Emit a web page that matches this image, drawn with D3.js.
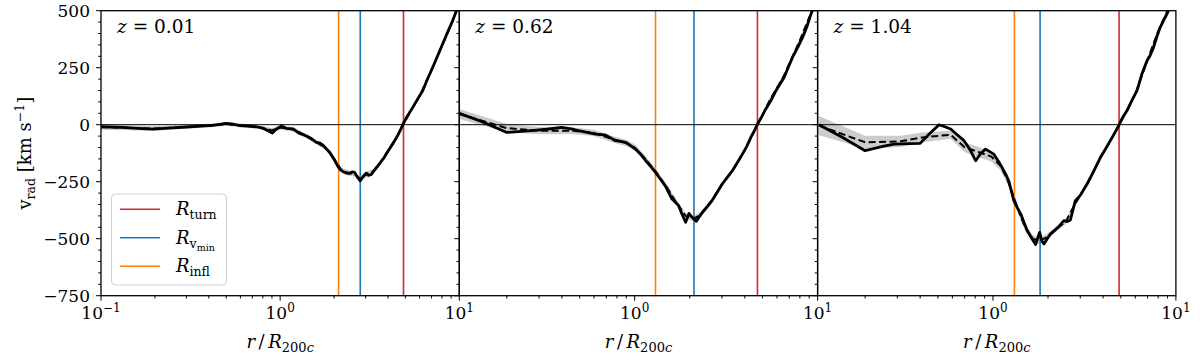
<!DOCTYPE html>
<html>
<head>
<meta charset="utf-8">
<script src="https://cdn.jsdelivr.net/npm/d3@7"></script>
<style>
  body { margin: 0; background: #fff; }
  svg { font-family: "DejaVu Serif", serif; }
</style>
</head>
<body>
<div id="chart"></div>
<script>
// ---- data ----
const zLabels = ["0.01", "0.62", "1.04"];
const xMins = [0.1, 0.11, 0.11];

const rTurn = [4.88, 4.69, 4.89];
const rVmin = [2.80, 2.11, 1.81];
const rInfl = [2.12, 1.30, 1.31];

const yTicks = [500, 250, 0, -250, -500, -750];

// z = 0.01
const r1 = [0.10,0.13,0.16,0.195,0.25,0.30,0.356,0.42,0.50,0.55,0.594,0.66,0.736,0.80,0.84,0.905,0.95,1.02,1.08,1.18,1.28,1.36,1.43,1.50,1.59,1.66,1.73,1.80,1.89,2.01,2.10,2.17,2.24,2.34,2.44,2.52,2.60,2.70,2.80,2.90,3.02,3.10,3.22,3.40,3.58,3.80,4.07,4.25,4.53,4.70,4.83,5.10,5.50,5.85,6.25,6.60,7.10,7.55,8.07,8.60,9.18,9.80,10.0];
const v1 = [-9,-12,-16,-19,-14,-10,-6,-3,6,2,-4,-6,-9,-15,-23,-37,-20,-6,-16,-18,-38,-45,-53,-62,-77,-80,-89,-104,-121,-155,-183,-198,-205,-212,-213,-207,-209,-230,-246,-228,-213,-222,-219,-195,-172,-145,-107,-85,-48,-22,0,35,76,112,149,195,251,300,354,405,456,515,530];
const r1m = [0.1,0.2,0.3,0.4,0.5,0.6,0.75,0.9,1.0,1.2,1.4,1.6,1.8,2.0,2.2,2.4,2.6,2.8,3.0,3.3,3.6,4.0,4.5,5.0,5.5,6.0,7.0,8.0,9.0,10.0];
const mean1 = [-10,-17,-10,-4,3,-3,-10,-25,-12,-22,-50,-78,-102,-150,-200,-212,-215,-240,-218,-205,-170,-115,-50,18,76,125,240,345,440,530];
const spread1 = [12,10,8,8,8,8,8,10,10,10,10,10,10,12,12,12,12,12,12,10,10,10,10,10,10,10,10,10,10,10];

// z = 0.62
const r2 = [0.11,0.15,0.20,0.273,0.33,0.40,0.45,0.493,0.55,0.61,0.69,0.74,0.78,0.84,0.89,0.95,1.01,1.08,1.15,1.22,1.30,1.38,1.47,1.54,1.60,1.67,1.74,1.82,1.90,1.98,2.06,2.17,2.25,2.34,2.50,2.65,2.80,3.01,3.20,3.42,3.65,3.88,4.10,4.31,4.50,4.69,4.95,5.21,5.55,5.92,6.25,6.57,6.90,7.29,7.80,8.28,8.70,9.20,9.60,10.0];
const v2 = [50,10,-34,-26,-20,-12,-18,-26,-34,-41,-45,-58,-70,-73,-77,-92,-107,-130,-158,-182,-209,-238,-268,-300,-326,-340,-355,-395,-428,-389,-406,-424,-405,-385,-358,-333,-302,-260,-232,-202,-165,-129,-95,-56,-28,3,35,69,105,149,180,208,250,295,340,383,425,485,525,560];
const r2m = [0.11,0.2,0.3,0.45,0.6,0.75,0.9,1.0,1.15,1.3,1.5,1.7,1.9,2.1,2.3,2.6,3.0,3.5,4.0,4.7,5.5,6.5,8.0,10];
const mean2 = [47,-15,-26,-26,-36,-62,-80,-100,-152,-205,-275,-345,-400,-412,-395,-340,-262,-190,-112,0,110,210,370,560];
const spread2 = [22,18,16,15,14,14,14,14,14,14,14,14,12,12,12,12,10,10,10,10,10,10,10,10];

// z = 1.04
const r3 = [0.112,0.15,0.20,0.25,0.288,0.35,0.40,0.45,0.507,0.55,0.587,0.64,0.695,0.75,0.804,0.85,0.91,0.96,1.01,1.07,1.12,1.17,1.22,1.26,1.30,1.36,1.42,1.48,1.54,1.62,1.71,1.76,1.80,1.85,1.90,1.98,2.06,2.20,2.30,2.44,2.55,2.65,2.82,3.0,3.27,3.50,3.87,4.10,4.38,4.60,4.87,5.10,5.40,5.70,6.13,6.50,6.95,7.20,7.55,7.90,8.21,8.60,8.93,9.30,10.0];
const v3 = [0,-55,-114,-95,-85,-83,-82,-40,0,-10,-19,-45,-70,-110,-158,-130,-107,-118,-129,-160,-187,-215,-246,-290,-333,-365,-392,-430,-465,-495,-526,-495,-472,-510,-523,-500,-480,-460,-445,-421,-425,-418,-333,-310,-260,-215,-143,-110,-70,-40,-4,30,61,100,149,220,281,300,339,390,427,460,485,520,580];
const r3m = [0.112,0.2,0.313,0.41,0.587,0.70,0.84,0.98,1.1,1.2,1.3,1.4,1.5,1.65,1.8,1.95,2.2,2.5,2.8,3.3,3.9,4.4,4.9,5.5,6.1,7.0,8.0,9.0,10];
const mean3 = [-4,-77,-73,-56,-44,-99,-121,-140,-180,-240,-320,-390,-450,-500,-510,-495,-460,-425,-350,-255,-140,-68,0,75,150,285,410,500,580];
const spread3 = [42,28,25,22,18,22,22,22,20,20,18,18,16,16,14,14,12,12,12,12,12,12,12,12,12,12,12,12,12];

const solidR = [r1, r2, r3], solidV = [v1, v2, v3];
const meanR = [r1m, r2m, r3m], meanV = [mean1, mean2, mean3], spreadV = [spread1, spread2, spread3];

// ---- layout ----
const W = 1200, H = 360;
const mLeft = 101, mTop = 10.7, plotH = 285, panelW = 358.3;
const fs = 17;

const svg = d3.select("#chart").append("svg")
  .attr("width", W).attr("height", H);

const yScale = d3.scaleLinear().domain([-750, 500]).range([mTop + plotH, mTop]);

const colors = { turn: "#d62728", vmin: "#1f77b4", infl: "#ff7f0e" };

for (let i = 0; i < 3; i++) {
  const x0 = mLeft + i * panelW;
  const xScale = d3.scaleLog().domain([xMins[i], 10]).range([x0, x0 + panelW]);
  const g = svg.append("g");

  g.append("clipPath").attr("id", "clip" + i)
    .append("rect").attr("x", x0).attr("y", mTop).attr("width", panelW).attr("height", plotH);
  const inner = g.append("g").attr("clip-path", `url(#clip${i})`);

  const band = meanR[i].map((r, k) => ({ r: r, lo: meanV[i][k] - spreadV[i][k], hi: meanV[i][k] + spreadV[i][k] }));
  inner.append("path")
    .datum(band)
    .attr("fill", "#cccccc")
    .attr("d", d3.area().x(d => xScale(d.r)).y0(d => yScale(d.lo)).y1(d => yScale(d.hi)));

  // characteristic radii
  [[rTurn[i], colors.turn], [rVmin[i], colors.vmin], [rInfl[i], colors.infl]].forEach(([r, c]) => {
    inner.append("line")
      .attr("x1", xScale(r)).attr("x2", xScale(r))
      .attr("y1", mTop).attr("y2", mTop + plotH)
      .attr("stroke", c).attr("stroke-width", 1.6);
  });

  inner.append("line")
    .attr("x1", x0).attr("x2", x0 + panelW)
    .attr("y1", yScale(0)).attr("y2", yScale(0))
    .attr("stroke", "#000").attr("stroke-width", 1);

  const line = d3.line().x(d => xScale(d[0])).y(d => yScale(d[1]));
  inner.append("path")
    .datum(meanR[i].map((r, k) => [r, meanV[i][k]]))
    .attr("fill", "none").attr("stroke", "#000").attr("stroke-width", 2)
    .attr("stroke-dasharray", "7,3.5")
    .attr("d", line);
  inner.append("path")
    .datum(solidR[i].map((r, k) => [r, solidV[i][k]]))
    .attr("fill", "none").attr("stroke", "#000").attr("stroke-width", 2.8)
    .attr("stroke-linejoin", "round")
    .attr("d", line);

  // frame
  g.append("rect")
    .attr("x", x0).attr("y", mTop).attr("width", panelW).attr("height", plotH)
    .attr("fill", "none").attr("stroke", "#000").attr("stroke-width", 1.3);

  // y ticks (outward on left spine)
  const yMinor = d3.range(-750, 501, 50);
  g.selectAll(null).data(yMinor).join("line")
    .attr("x1", x0).attr("x2", d => x0 - (d % 250 === 0 ? 5 : 2.8))
    .attr("y1", d => yScale(d)).attr("y2", d => yScale(d))
    .attr("stroke", "#000").attr("stroke-width", 1);
  if (i === 0) {
    g.selectAll(null).data(yTicks).join("text")
      .attr("x", x0 - 11).attr("y", d => yScale(d) + 6)
      .attr("text-anchor", "end").style("font-size", fs + "px")
      .text(d => d < 0 ? "\u2212" + Math.abs(d) : d);
  }

  // x ticks
  const allTicks = xScale.ticks().filter(t => t >= xMins[i] - 1e-9 && t <= 10 + 1e-9);
  const isMajor = t => Math.abs(Math.log10(t) - Math.round(Math.log10(t))) < 1e-6;
  g.selectAll(null).data(allTicks).join("line")
    .attr("x1", d => xScale(d)).attr("x2", d => xScale(d))
    .attr("y1", mTop + plotH).attr("y2", d => mTop + plotH + (isMajor(d) ? 5 : 2.8))
    .attr("stroke", "#000").attr("stroke-width", 1);
  const majors = allTicks.filter(isMajor);
  majors.forEach(t => {
    const e = Math.round(Math.log10(t));
    const tx = g.append("text")
      .attr("x", xScale(t)).attr("y", mTop + plotH + 23)
      .attr("text-anchor", "middle").style("font-size", fs + "px");
    tx.append("tspan").text("10");
    tx.append("tspan").attr("dy", -7).style("font-size", "12px").text(e < 0 ? "\u2212" + (-e) : e);
  });

  // x label
  const xl = g.append("text")
    .attr("x", x0 + panelW / 2).attr("y", 348)
    .attr("text-anchor", "middle").style("font-size", "18px");
  xl.append("tspan").style("font-style", "italic").text("r");
  xl.append("tspan").text("\u2009/\u2009");
  xl.append("tspan").style("font-style", "italic").text("R");
  xl.append("tspan").attr("dy", 4).style("font-size", "13px").text("200");
  xl.append("tspan").style("font-size", "13px").style("font-style", "italic").text("c");

  // redshift label
  const zt = g.append("text")
    .attr("x", x0 + 16).attr("y", 33)
    .style("font-size", "18.5px");
  zt.append("tspan").style("font-style", "italic").text("z");
  zt.append("tspan").text(" = " + zLabels[i]);
}

// y label
const yl = svg.append("text")
  .attr("transform", `translate(31, ${mTop + plotH / 2}) rotate(-90)`)
  .attr("text-anchor", "middle").style("font-size", "18px");
yl.append("tspan").text("v");
yl.append("tspan").attr("dy", 4).style("font-size", "12.5px").text("rad");
yl.append("tspan").attr("dy", -4).text(" [km s");
yl.append("tspan").attr("dy", -7).style("font-size", "12.5px").text("\u22121");
yl.append("tspan").attr("dy", 7).text("]");

// legend
const legend = svg.append("g");
legend.append("rect")
  .attr("x", 111.5).attr("y", 194).attr("width", 115).attr("height", 91)
  .attr("rx", 4).attr("fill", "#fff").attr("fill-opacity", 0.8)
  .attr("stroke", "#d0d0d0").attr("stroke-width", 1);
const legendItems = [
  { c: colors.turn, sub: "turn" },
  { c: colors.vmin, sub: "v", subsub: "min" },
  { c: colors.infl, sub: "infl" }
];
legendItems.forEach((it, k) => {
  const y = 209.3 + k * 28.5;
  legend.append("line")
    .attr("x1", 120).attr("x2", 160).attr("y1", y).attr("y2", y)
    .attr("stroke", it.c).attr("stroke-width", 1.6);
  const t = legend.append("text").attr("x", 176).attr("y", y + 6).style("font-size", "18px");
  t.append("tspan").style("font-style", "italic").text("R");
  t.append("tspan").attr("dy", 4).style("font-size", "12.5px").text(it.sub);
  if (it.subsub) t.append("tspan").attr("dy", 3).style("font-size", "9.5px").text(it.subsub);
});
</script>
</body>
</html>
